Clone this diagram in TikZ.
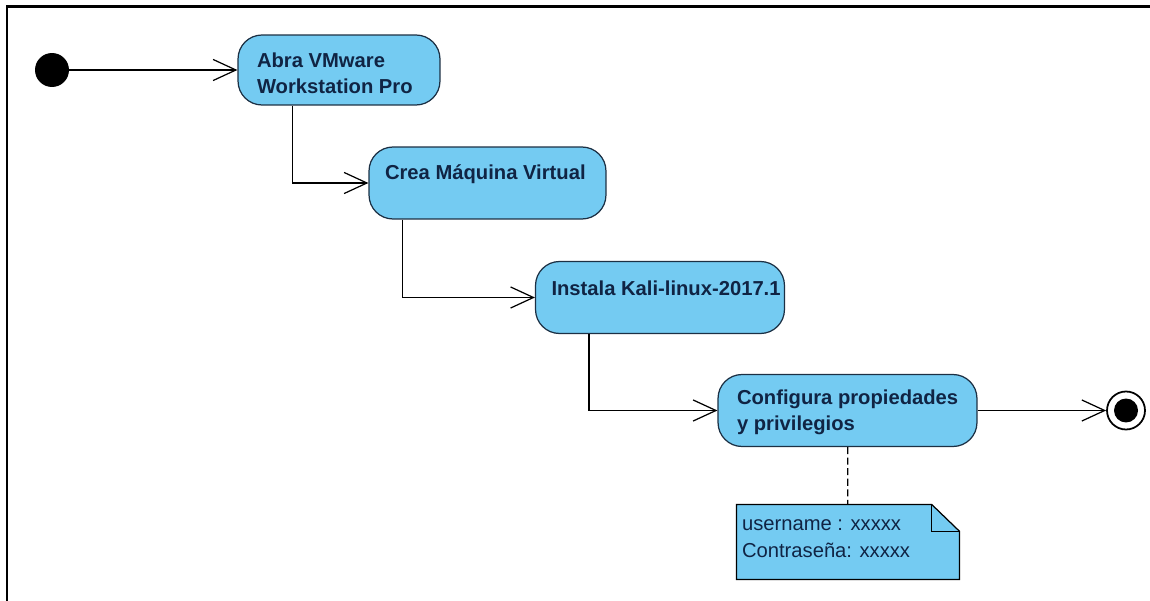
\documentclass[tikz,border=0pt]{standalone}
\usepackage{fontspec}
\setmainfont{Liberation Sans}
\usetikzlibrary{arrows.meta}
\definecolor{actfill}{RGB}{116,203,242}
\definecolor{actline}{RGB}{28,48,68}
\definecolor{acttext}{RGB}{16,36,68}
\tikzset{every picture/.style={line width=0.7pt}}
\tikzset{
  dot/.style={circle, fill=black, minimum size=#1,
                inner sep=0pt, outer sep=0pt},
  dot/.default={0.68cm}, % default size of the initial node
  action/.style={draw=actline, fill=actfill, rounded corners=0.48cm,
                inner sep=0pt},
  actlabel/.style={anchor=north west, inner sep=0pt, align=left,
                font=\fontsize{11.5}{15}\selectfont\bfseries, text=acttext},
  notelabel/.style={anchor=north west, inner sep=0pt, align=left,
                font=\fontsize{11.5}{15}\selectfont, text=acttext},
  flow/.style={-{Straight Barb[length=13pt,width=12pt]}},
}

\begin{document}
\begin{tikzpicture}[x=0.02cm, y=-0.02cm]
  \useasboundingbox (0,0) rectangle (1150,601);
  % frame
  \draw[line width=0.06cm] (7,601) -- (7,7) -- (1150,7);
  % start and actions
  \node[dot] (start) at (52,70) {};
  \node[action, minimum width=4.04cm, minimum height=1.4cm] (abra) at (339,70) {};
  \node[action, minimum width=4.74cm, minimum height=1.44cm] (crea) at (487.5,183) {};
  \node[action, minimum width=4.98cm, minimum height=1.44cm] (inst) at (660,297.5) {};
  \node[action, minimum width=5.18cm, minimum height=1.44cm] (conf) at (847.5,410.5) {};
  \node[actlabel] (abratext) at ([shift={(19,18)}]abra.north west) {Abra VMware\\Workstation Pro};
  \node[actlabel] (creatext) at ([shift={(16,18)}]crea.north west) {Crea Máquina Virtual};
  \node[actlabel] (insttext) at ([shift={(16,19)}]inst.north west) {Instala Kali-linux-2017.1};
  \node[actlabel] (conftext) at ([shift={(19,15)}]conf.north west) {Configura propiedades\\y privilegios};
  % final node
  \node[circle, draw, line width=1pt, minimum size=0.76cm, inner sep=0pt] (end) at (1126,410.5) {};
  \node[dot=0.48cm] (endcore) at (end) {};
  % note
  \node[minimum width=4.44cm, minimum height=1.48cm, inner sep=0pt] (note) at (848,542) {};
  \filldraw[fill=actfill] (note.south west) -- (note.north west)
    -- ([xshift=-0.56cm]note.north east) -- ([yshift=-0.54cm]note.north east)
    -- (note.south east) -- cycle;
  \draw ([xshift=-0.56cm]note.north east) |- ([yshift=-0.54cm]note.north east);
  \node[notelabel] (notetext) at ([shift={(5,15)}]note.north west) {username : xxxxx\\Contraseña: xxxxx};
  % connect
  \draw[flow] (start) -- (abra);
  \draw[flow] (abra.south west) ++(55,0) |- (crea.west);
  \draw[flow] (crea.south west) ++(34,0) |- (inst.west);
  \draw[flow] (inst.south west) ++(54,0) |- (conf.west);
  \draw[flow] (conf) -- (end);
  \draw[dash pattern=on 4pt off 2pt] (conf) -- (note);
\end{tikzpicture}
\end{document}
